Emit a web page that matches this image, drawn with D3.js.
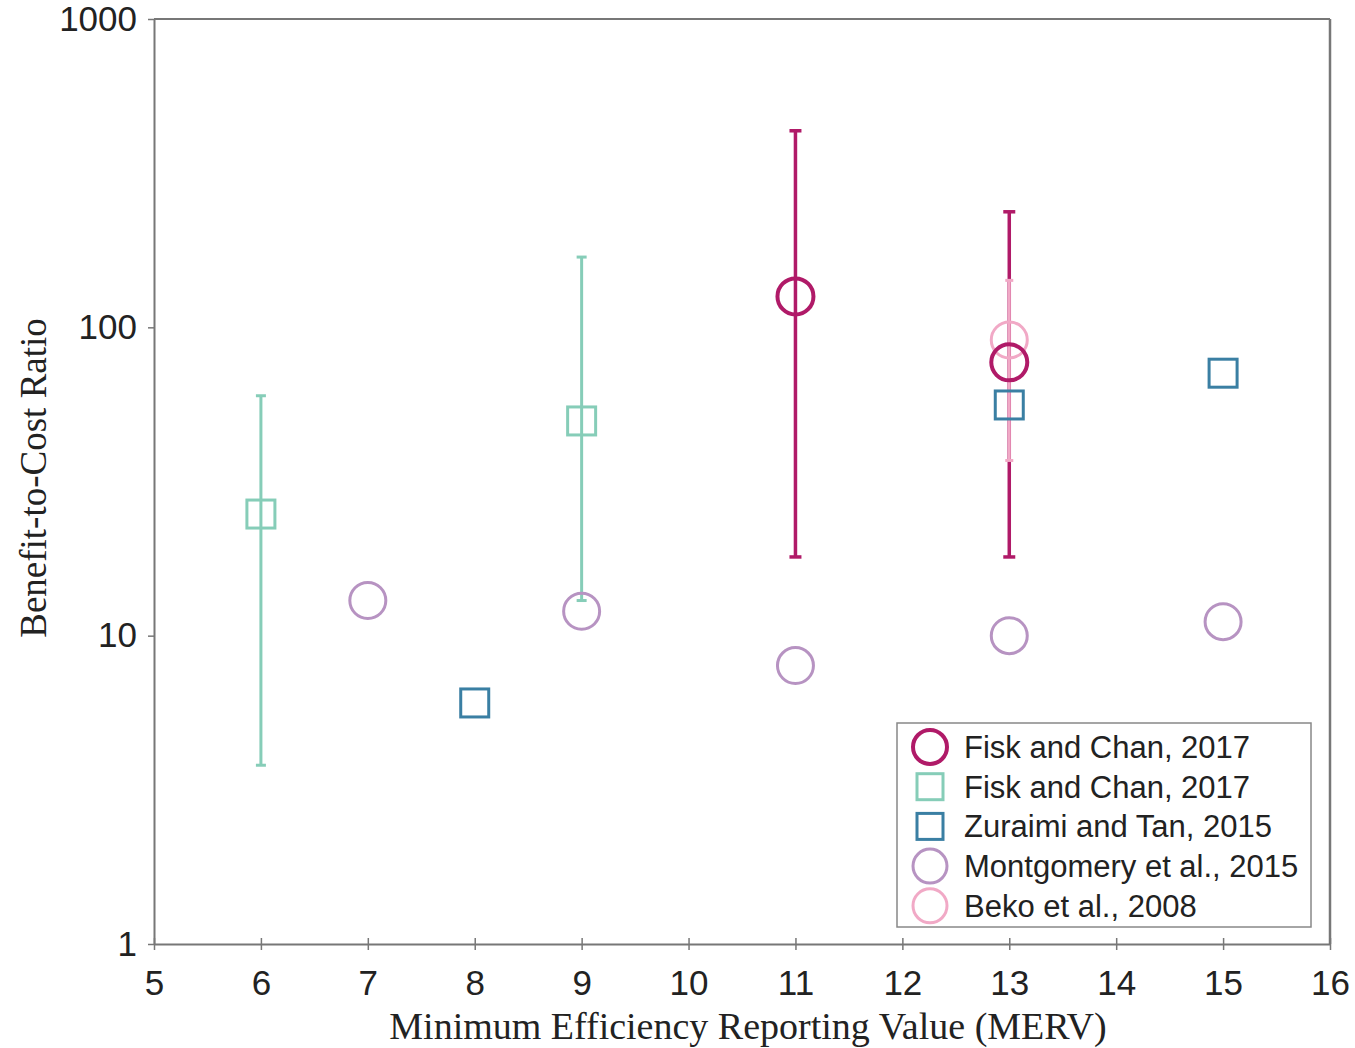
<!DOCTYPE html>
<html><head><meta charset="utf-8">
<script src="https://cdn.jsdelivr.net/npm/d3@7"></script>
<style>body{margin:0;background:#fff}</style>
</head><body>
<svg id="c" width="1355" height="1048"></svg>
<script>
// Data
const xTicks = [5,6,7,8,9,10,11,12,13,14,15,16];
const yTicks = [1,10,100,1000];
const fiskCircleX = [11, 13];
const fiskCircleY = [126, 77];
const fiskCircleLo = [18, 18];
const fiskCircleHi = [434, 237];
const fiskSquareX = [6, 9];
const fiskSquareY = [24.8, 49.7];
const fiskSquareLo = [3.8, 13];
const fiskSquareHi = [60, 169];
const zuraimiX = [8, 13, 15];
const zuraimiY = [6.05, 56, 71];
const montgomeryX = [7, 9, 11, 13, 15];
const montgomeryY = [13.0, 12.0, 8.0, 10.0, 11.1];
const bekoX = [13];
const bekoY = [91];
const bekoLo = [37];
const bekoHi = [142];
const legendLabels = ["Fisk and Chan, 2017","Fisk and Chan, 2017","Zuraimi and Tan, 2015","Montgomery et al., 2015","Beko et al., 2008"];

const C = {fiskC:"#b01a68", fiskS:"#86cdb8", zur:"#3a7fa3", mont:"#b793c2", beko:"#f1a9c6"};

const svg = d3.select("#c");
const L=154, R=1330, T=19, B=944;
const x = d3.scaleLinear().domain([5,16]).range([L,R]);
const y = d3.scaleLog().domain([1,1000]).range([B,T]);
const axisColor="#777";
const sans="Liberation Sans, Arial, Helvetica, sans-serif";
const serif="Liberation Serif, Times New Roman, serif";

// frame top/right
svg.append("line").attr("x1",L).attr("x2",R).attr("y1",T).attr("y2",T).attr("stroke",axisColor).attr("stroke-width",2);
svg.append("line").attr("x1",R).attr("x2",R).attr("y1",T).attr("y2",B).attr("stroke",axisColor).attr("stroke-width",2.5);

// axes
const gx = svg.append("g").attr("transform",`translate(0,${B})`)
  .call(d3.axisBottom(x).tickValues(xTicks).tickFormat(d3.format("d")).tickSizeInner(6).tickSizeOuter(0).tickPadding(20));
gx.select(".domain").attr("stroke",axisColor).attr("stroke-width",2);
gx.selectAll(".tick line").attr("stroke",axisColor).attr("stroke-width",1.5).attr("y1",-6);
gx.selectAll(".tick text").attr("font-family",sans).attr("font-size",35).attr("fill","#222");

const gy = svg.append("g").attr("transform",`translate(${L},0)`)
  .call(d3.axisLeft(y).tickValues(yTicks).tickFormat(d3.format("d")).tickSizeInner(6).tickSizeOuter(0).tickPadding(11));
gy.select(".domain").attr("stroke",axisColor).attr("stroke-width",2);
gy.selectAll(".tick line").attr("stroke",axisColor).attr("stroke-width",1.5);
gy.selectAll(".tick text").attr("font-family",sans).attr("font-size",35).attr("fill","#222");

// axis titles
svg.append("text").attr("x",748).attr("y",1039).attr("text-anchor","middle")
  .attr("font-family",serif).attr("font-size",38).attr("fill","#222").text("Minimum Efficiency Reporting Value (MERV)");
svg.append("text").attr("transform",`translate(46,${478}) rotate(-90)`).attr("text-anchor","middle")
  .attr("font-family",serif).attr("font-size",37).attr("fill","#222").text("Benefit-to-Cost Ratio");

function errBars(xs, lo, hi, color, w, cap){
  const g = svg.append("g");
  xs.forEach((xv,i)=>{
    g.append("line").attr("x1",x(xv)).attr("x2",x(xv)).attr("y1",y(lo[i])).attr("y2",y(hi[i])).attr("stroke",color).attr("stroke-width",w);
    [lo[i],hi[i]].forEach(v=>g.append("line").attr("x1",x(xv)-cap).attr("x2",x(xv)+cap).attr("y1",y(v)).attr("y2",y(v)).attr("stroke",color).attr("stroke-width",w));
  });
}
function circles(xs, ys, color, r, w){
  svg.append("g").selectAll("circle").data(xs).join("circle")
    .attr("cx",d=>x(d)).attr("cy",(d,i)=>y(ys[i])).attr("r",r)
    .attr("fill","none").attr("stroke",color).attr("stroke-width",w);
}
function squares(xs, ys, color, s, w){
  svg.append("g").selectAll("rect").data(xs).join("rect")
    .attr("x",d=>x(d)-s/2).attr("y",(d,i)=>y(ys[i])-s/2).attr("width",s).attr("height",s)
    .attr("fill","none").attr("stroke",color).attr("stroke-width",w);
}

errBars(fiskSquareX, fiskSquareLo, fiskSquareHi, C.fiskS, 3, 5);
errBars(fiskCircleX, fiskCircleLo, fiskCircleHi, C.fiskC, 3.5, 6);
errBars(bekoX, bekoLo, bekoHi, C.beko, 3, 4);
circles(montgomeryX, montgomeryY, C.mont, 18, 3);
circles(bekoX, bekoY, C.beko, 18, 3);
circles(fiskCircleX, fiskCircleY, C.fiskC, 18, 4);
squares(fiskSquareX, fiskSquareY, C.fiskS, 28, 3);
squares(zuraimiX, zuraimiY, C.zur, 28, 3);

// legend
const lg = svg.append("g");
lg.append("rect").attr("x",897).attr("y",723).attr("width",414).attr("height",204)
  .attr("fill","#fff").attr("stroke","#888").attr("stroke-width",1.5);
const legTypes = [["c",C.fiskC,4],["s",C.fiskS,3],["s",C.zur,3],["c",C.mont,3],["c",C.beko,3]];
legendLabels.forEach((t,i)=>{
  const cy = 747 + i*39.7;
  const [k,col,w] = legTypes[i];
  if(k==="c") lg.append("circle").attr("cx",930).attr("cy",cy).attr("r",17).attr("fill","none").attr("stroke",col).attr("stroke-width",w);
  else lg.append("rect").attr("x",930-13).attr("y",cy-13).attr("width",26).attr("height",26).attr("fill","none").attr("stroke",col).attr("stroke-width",w);
  lg.append("text").attr("x",964).attr("y",cy+11).attr("font-family",sans).attr("font-size",31).attr("fill","#222").text(t);
});
</script>
</body></html>
